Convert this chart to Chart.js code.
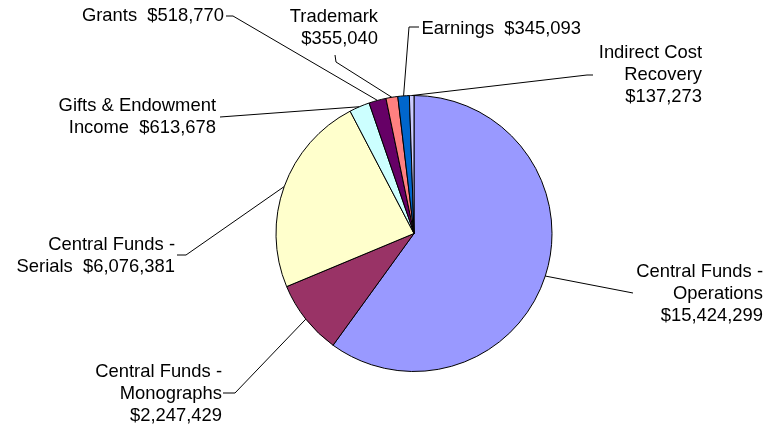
<!DOCTYPE html>
<html>
<head>
<meta charset="utf-8">
<script src="https://cdn.jsdelivr.net/npm/chart.js@4/dist/chart.umd.min.js"></script>
<style>
  html, body { margin: 0; padding: 0; background: #fff; }
  #c { display: block; }
</style>
</head>
<body>
<canvas id="c" width="773" height="429"></canvas>
<script>
const categories = [
    "Central Funds - Operations",
    "Central Funds - Monographs",
    "Central Funds - Serials",
    "Gifts & Endowment Income",
    "Grants",
    "Trademark",
    "Earnings",
    "Indirect Cost Recovery"
];
const amounts = [15424299, 2247429, 6076381, 613678, 518770, 355040, 345093, 137273];

const sliceColors = ["#9999FF", "#993366", "#FFFFCC", "#CCFFFF", "#660066", "#FF8080", "#0066CC", "#CCCCFF"];

// label placement: words per line, right edge, first line centre, leader path near the label
const labelLayout = [
    { lines: [3, 1, 1], right: 763, top: 272, path: [[633, 293]] },
    { lines: [3, 1, 1], right: 222, top: 372, path: [[223, 393], [235, 393]] },
    { lines: [3, 2], right: 175, top: 245, path: [[177, 255], [186, 255]] },
    { lines: [3, 2], right: 216, top: 106, path: [[220, 117]] },
    { lines: [2], right: 224, top: 16, path: [[226, 16], [233, 16]] },
    { lines: [1, 1], right: 378, top: 17, path: [[335, 55], [336, 62]] },
    { lines: [2], right: 581, top: 29, path: [[419, 27], [409, 27]] },
    { lines: [2, 1, 1], right: 702, top: 53, path: [[593, 75], [587, 75]] }
];
const lineGap = 22;

function money(v) {
    return "$" + v.toLocaleString("en-US");
}

function labelLines(i) {
    const words = categories[i].split(" ");
    words.push(money(amounts[i]));
    const out = [];
    let k = 0;
    labelLayout[i].lines.forEach(n => {
        const part = words.slice(k, k + n);
        k += n;
        let s = part.join(" ");
        // two spaces before the amount when it shares a line with the name
        if (k === words.length && part.length > 1) {
            s = part.slice(0, -1).join(" ") + "  " + part[part.length - 1];
        }
        out.push(s);
    });
    return out;
}

const pieLabels = {
    id: "pieLabels",
    afterDraw(chart) {
        const ctx = chart.ctx;
        const meta = chart.getDatasetMeta(0);
        ctx.save();
        ctx.strokeStyle = "#000";
        ctx.lineWidth = 1;
        ctx.fillStyle = "#000";
        ctx.font = "18.4px 'Liberation Sans', Arial, sans-serif";
        ctx.textAlign = "right";
        ctx.textBaseline = "middle";
        meta.data.forEach((arc, i) => {
            const p = arc.getProps(["x", "y", "startAngle", "endAngle", "outerRadius"], true);
            const mid = (p.startAngle + p.endAngle) / 2;
            const ex = p.x + Math.cos(mid) * p.outerRadius;
            const ey = p.y + Math.sin(mid) * p.outerRadius;
            const lay = labelLayout[i];
            ctx.beginPath();
            ctx.moveTo(lay.path[0][0], lay.path[0][1]);
            lay.path.slice(1).forEach(pt => ctx.lineTo(pt[0], pt[1]));
            ctx.lineTo(ex, ey);
            ctx.stroke();
            labelLines(i).forEach((s, j) => {
                ctx.fillText(s, lay.right, lay.top + j * lineGap);
            });
        });
        ctx.restore();
    }
};

new Chart(document.getElementById("c"), {
    type: "pie",
    data: {
        labels: categories,
        datasets: [{
            data: amounts,
            backgroundColor: sliceColors,
            borderColor: "#000",
            borderWidth: 1,
            hoverOffset: 0
        }]
    },
    options: {
        responsive: false,
        animation: false,
        events: [],
        layout: { padding: { left: 200, right: 145, top: 95, bottom: 57 } },
        plugins: {
            legend: { display: false },
            tooltip: { enabled: false }
        }
    },
    plugins: [pieLabels]
});
</script>
</body>
</html>
